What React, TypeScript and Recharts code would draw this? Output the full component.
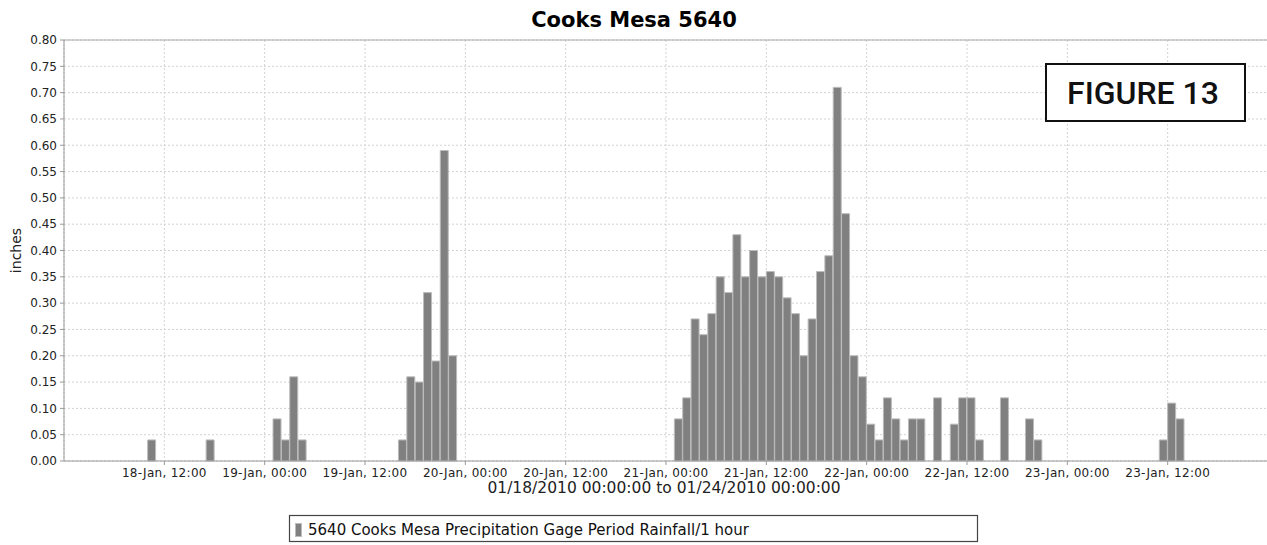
import { BarChart, Bar, XAxis, YAxis, CartesianGrid, ReferenceLine } from "recharts";

// hour index (from 01/18/2010 00:00) at which each 1-hour period starts
const hours = [
  10, 17, 25, 26, 27, 28, 40, 41, 42, 43, 44, 45, 46,
  73, 74, 75, 76, 77, 78, 79, 80, 81, 82, 83, 84, 85, 86, 87, 88, 89, 90, 91, 92, 93, 94, 95, 96, 97,
  98, 99, 100, 101, 102, 104, 106, 107, 108, 109, 112, 115, 116, 131, 132, 133,
];
const rain = [
  0.04, 0.04, 0.08, 0.04, 0.16, 0.04, 0.04, 0.16, 0.15, 0.32, 0.19, 0.59, 0.2,
  0.08, 0.12, 0.27, 0.24, 0.28, 0.35, 0.32, 0.43, 0.35, 0.4, 0.35, 0.36, 0.35, 0.31, 0.28, 0.2, 0.27, 0.36, 0.39, 0.71, 0.47, 0.2, 0.16, 0.07, 0.04,
  0.12, 0.08, 0.04, 0.08, 0.08, 0.12, 0.07, 0.12, 0.12, 0.04, 0.12, 0.08, 0.04, 0.04, 0.11, 0.08,
];

const tickHours = [12, 24, 36, 48, 60, 72, 84, 96, 108, 120, 132];
const tickLabels = [
  "18-Jan, 12:00", "19-Jan, 00:00", "19-Jan, 12:00", "20-Jan, 00:00", "20-Jan, 12:00",
  "21-Jan, 00:00", "21-Jan, 12:00", "22-Jan, 00:00", "22-Jan, 12:00", "23-Jan, 00:00", "23-Jan, 12:00",
];
const yTicks = [0, 0.05, 0.1, 0.15, 0.2, 0.25, 0.3, 0.35, 0.4, 0.45, 0.5, 0.55, 0.6, 0.65, 0.7, 0.75, 0.8];

const seriesName = "5640 Cooks Mesa Precipitation Gage Period Rainfall/1 hour";

// bars sit on the middle of their hour
const data = hours.map((h, i) => ({ t: h + 0.5, rain: rain[i] }));

const tickStyle = { fill: "#222", fontSize: 12, fontFamily: "DejaVu Sans" };
const font = "DejaVu Sans, sans-serif";

export default function App() {
  return (
    <div style={{ position: "relative", width: 1267, height: 545, background: "#fff", overflow: "hidden" }}>
      <style>{"body{margin:0}"}</style>
      <BarChart
        width={1267}
        height={545}
        data={data}
        margin={{ top: 40, right: -1, left: 0, bottom: 54 }}
        barCategoryGap={0}
        barGap={0}
      >
        <CartesianGrid strokeDasharray="2 2" stroke="#d2d2d2" />
        <XAxis
          dataKey="t"
          type="number"
          domain={[0, 144]}
          ticks={tickHours}
          interval={0}
          tickFormatter={(v) => tickLabels[tickHours.indexOf(v)] ?? ""}
          height={30}
          tickSize={4}
          tickMargin={3}
          stroke="#999"
          tick={{ ...tickStyle, letterSpacing: 0.3 }}
        />
        <YAxis
          domain={[0, 0.8]}
          ticks={yTicks}
          interval={0}
          width={64}
          tickSize={4}
          tickMargin={3}
          stroke="#999"
          tickFormatter={(v) => Number(v).toFixed(2)}
          tick={tickStyle}
        />
        <ReferenceLine y={0.8} stroke="#aaa" />
        <Bar dataKey="rain" fill="#808080" stroke="#bcbcbc" strokeWidth={1} isAnimationActive={false} />
      </BarChart>

      <svg
        width={1267}
        height={545}
        style={{ position: "absolute", left: 0, top: 0, pointerEvents: "none" }}
      >
        <text x={634} y={27} textAnchor="middle" fontFamily={font} fontWeight="bold" fontSize={21} fill="#000">
          Cooks Mesa 5640
        </text>
        <text
          x={20.5}
          y={250.5}
          transform="rotate(-90 20.5 250.5)"
          textAnchor="middle"
          fontFamily={font}
          fontSize={14}
          fill="#222"
        >
          inches
        </text>
        <text x={664} y={493} textAnchor="middle" fontFamily={font} fontSize={15.5} fill="#222">
          01/18/2010 00:00:00 to 01/24/2010 00:00:00
        </text>

        <rect x={289.5} y={515.5} width={688} height={26} fill="#fff" stroke="#444" strokeWidth={1.2} />
        <rect x={295.5} y={523.5} width={6} height={13} fill="#808080" stroke="#bcbcbc" />
        <text x={308} y={534.5} fontFamily={font} fontSize={15} fill="#111">
          {seriesName}
        </text>

        <rect x={1046} y={64} width={199} height={57} fill="#fff" stroke="#111" strokeWidth={2} />
        <text x={1143} y={103.5} textAnchor="middle" fontFamily="Roboto, sans-serif" fontWeight={500} fontSize={32} fill="#111">
          FIGURE 13
        </text>
      </svg>
    </div>
  );
}
